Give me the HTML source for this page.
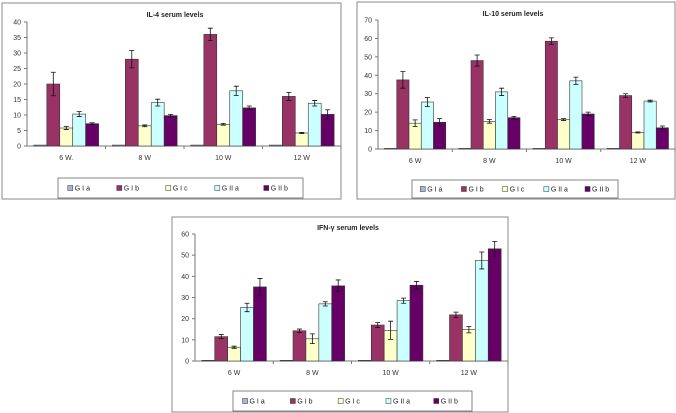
<!DOCTYPE html>
<html><head><meta charset="utf-8"><style>
body{margin:0;background:#fff;width:676px;height:413px;overflow:hidden;font-family:"Liberation Sans",sans-serif}
svg{position:absolute;left:0;top:0}
</style></head><body>
<svg id="c" width="676" height="413"></svg>
<script>
const categories=["6 W.","8 W","10 W","12 W"];
const categories2=["6 W","8 W","10 W","12 W"];
const groups=["G I a","G I b","G I c","G II a","G II b"];
const colors=["#a8b4e0","#993366","#ffffcc","#ccffff","#660066"];
const il4GIa=[0.3,0.3,0.3,0.3],il4GIb=[20,28,36,16],il4GIc=[5.8,6.5,7,4.2],il4GIIa=[10.3,14,17.8,13.8],il4GIIb=[7.2,9.8,12.3,10.2];
const il4Err=[[0,0,0,0],[3.8,2.8,2,1.3],[0.5,0.3,0.3,0.2],[0.8,1.1,1.5,0.9],[0.3,0.4,0.6,1.5]];
const il10GIa=[0.3,0.3,0.3,0.3],il10GIb=[37.5,48,58.5,29],il10GIc=[14,15,16,9],il10GIIa=[25.5,31,37,26],il10GIIb=[14.5,17,19,11.5];
const il10Err=[[0,0,0,0],[4.5,3,1.8,1],[1.8,1,0.5,0.3],[2.5,2,2,0.5],[2,0.7,1,1]];
const ifnGIa=[0.3,0.3,0.3,0.3],ifnGIb=[11.5,14.3,17,21.8],ifnGIc=[6.5,10.5,14.5,14.8],ifnGIIa=[25.3,27,28.5,47.5],ifnGIIb=[35,35.5,35.8,53];
const ifnErr=[[0,0,0,0],[1,0.8,1.2,1.3],[0.5,2.3,4.3,1.5],[2,1,1.2,4],[4,2.8,1.8,3.5]];
const il4Ticks=[0,5,10,15,20,25,30,35,40],il10Ticks=[0,10,20,30,40,50,60,70],ifnTicks=[0,10,20,30,40,50,60];
const svg=document.getElementById('c');const NS="http://www.w3.org/2000/svg";
function mk(t,a,p,txt){const e=document.createElementNS(NS,t);for(const k in a)e.setAttribute(k,a[k]);if(txt!==undefined)e.textContent=txt;(p||svg).appendChild(e);return e;}
function chart(o){
 const g=mk('g',{});
 
 
 const fr=mk('rect',{x:o.fx,y:o.fy,width:o.fw,height:o.fh,fill:'#fff',stroke:'#888','stroke-width':1},g);
 
 
 const tt=mk('text',{x:o.tx,y:o.ty,'font-size':7,'font-weight':'bold','text-anchor':'middle',fill:'#222'},g,o.title);
 
 
 const max=o.ticks[o.ticks.length-1];
 const y=v=>o.y0-(v/max)*(o.y0-o.yTop);
 const cw=(o.x1-o.x0)/o.cats.length;
 mk('line',{x1:o.x0,y1:o.yTop,x2:o.x0,y2:o.y0,stroke:'#777'},g);
 mk('line',{x1:o.x0,y1:o.y0,x2:o.x1,y2:o.y0,stroke:'#777'},g);
 o.ticks.forEach(t=>{mk('line',{x1:o.x0-3,y1:y(t),x2:o.x0,y2:y(t),stroke:'#777'},g);
  const l=mk('text',{x:o.x0-6,y:y(t)+2.5,'font-size':7,'text-anchor':'end',fill:'#333'},g,t);
  
  });
 o.cats.forEach((c,i)=>{const cx=o.x0+cw*(i+0.5);
  mk('line',{x1:o.x0+cw*(i+1),y1:o.y0,x2:o.x0+cw*(i+1),y2:o.y0+3,stroke:'#777'},g);
  const l=mk('text',{x:cx,y:o.y0+14,'font-size':7,'text-anchor':'middle',fill:'#333'},g,c);
  
  
  const bw=cw*0.165,st=cx-bw*2.5;
  o.series.forEach((s,j)=>{const v=s[i],bx=st+j*bw;
   const r=mk('rect',{x:bx,y:y(v),width:bw,height:o.y0-y(v),fill:colors[j],stroke:'#333','stroke-width':0.6},g);
   
   
   const e=o.err[j][i];if(e>0){const m=bx+bw/2;
    mk('path',{d:`M${m},${y(v+e)}V${y(v-e)}M${m-2.5},${y(v+e)}H${m+2.5}M${m-2.5},${y(v-e)}H${m+2.5}`,stroke:'#111','stroke-width':0.8,fill:'none'},g);}
  });});
 const lg=mk('g',{},g);
 
 
 mk('rect',{x:o.lx,y:o.ly,width:o.lw,height:o.lh,fill:'#fff',stroke:'#666','stroke-width':0.8},lg);
 const step=o.lw/5;
 groups.forEach((gn,j)=>{const ex=o.lx+step*j+step*0.2;
  mk('rect',{x:ex,y:o.ly+o.lh/2-2.5,width:5,height:5,fill:colors[j],stroke:'#333','stroke-width':0.5},lg);
  const t=mk('text',{x:ex+7,y:o.ly+o.lh/2+2.5,'font-size':7,fill:'#222'},lg,gn);
  
  });
}
chart({name:'il4-chart',fx:2,fy:3,fw:339,fh:196,tx:175,ty:17,title:'IL-4 serum levels',x0:27,x1:341,y0:146,yTop:22,ticks:il4Ticks,cats:categories,
 series:[il4GIa,il4GIb,il4GIc,il4GIIa,il4GIIb],err:il4Err,lx:58,ly:178,lw:245,lh:20});
chart({name:'il10-chart',fx:357,fy:2,fw:318,fh:197,tx:513,ty:16,title:'IL-10 serum levels',x0:378,x1:675,y0:149,yTop:20,ticks:il10Ticks,cats:categories2,
 series:[il10GIa,il10GIb,il10GIc,il10GIIa,il10GIIb],err:il10Err,lx:412,ly:180,lw:206,lh:18});
chart({name:'ifn-gamma-chart',fx:172,fy:217,fw:336,fh:195,tx:348,ty:230,title:'IFN-γ serum levels',x0:195,x1:508,y0:361,yTop:234,ticks:ifnTicks,cats:categories2,
 series:[ifnGIa,ifnGIb,ifnGIc,ifnGIIa,ifnGIIb],err:ifnErr,lx:233,ly:391,lw:239,lh:20});
</script>
</body></html>
